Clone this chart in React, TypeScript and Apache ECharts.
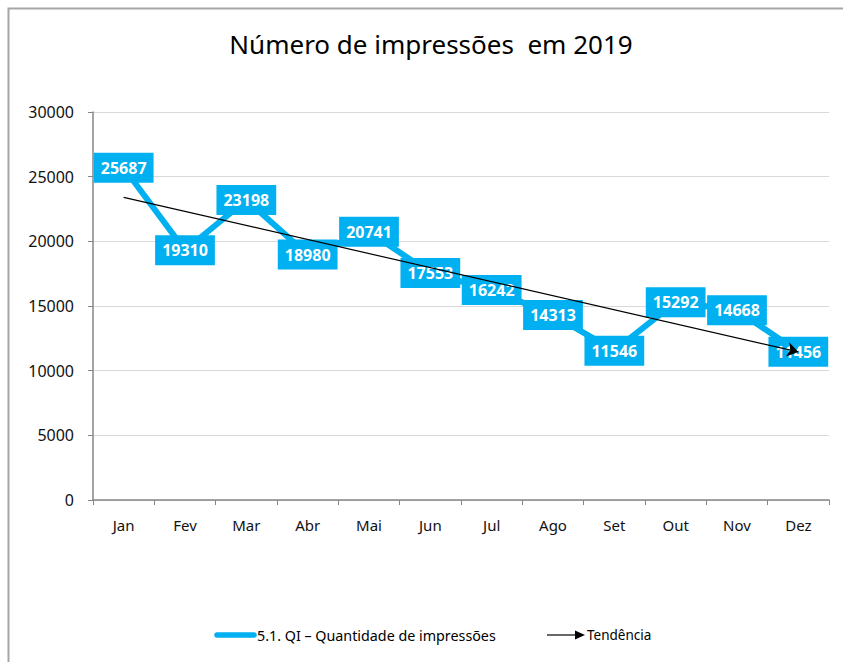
import React, { useEffect, useRef } from "react";
import * as echarts from "echarts";

const months = ["Jan", "Fev", "Mar", "Abr", "Mai", "Jun", "Jul", "Ago", "Set", "Out", "Nov", "Dez"];
const impressions = [25687, 19310, 23198, 18980, 20741, 17553, 16242, 14313, 11546, 15292, 14668, 11456];
const trendEnds = [23400, 11450];
const seriesName = "5.1. QI – Quantidade de impressões";
const trendName = "Tendência";
const titleText = "Número de impressões  em 2019";

const FONT = "'Noto Sans', 'Open Sans', sans-serif";
const CYAN = "#00B0F0";

export default function App() {
  const ref = useRef<HTMLDivElement>(null);
  useEffect(() => {
    if (!ref.current) return;
    const chart = echarts.init(ref.current, null, { renderer: "svg" });
    chart.setOption({
      animation: false,
      backgroundColor: "#ffffff",
      textStyle: { fontFamily: FONT },
      grid: { left: 93, right: 14, top: 112, bottom: 162, containLabel: false },
      xAxis: {
        type: "category",
        data: months,
        boundaryGap: true,
        axisLine: { lineStyle: { color: "#868686", width: 1.5 } },
        axisTick: { show: true, length: 5, alignWithLabel: false, lineStyle: { color: "#868686" } },
        axisLabel: { color: "#111111", fontSize: 15, margin: 17, fontFamily: FONT },
        splitLine: { show: false },
      },
      yAxis: {
        type: "value",
        min: 0,
        max: 30000,
        interval: 5000,
        axisLine: { show: true, lineStyle: { color: "#868686", width: 1.5 } },
        axisTick: { show: true, length: 5, lineStyle: { color: "#868686" } },
        axisLabel: {
          color: "#111111",
          fontSize: 16,
          margin: 19,
          fontFamily: FONT,
          formatter: (v: number) => String(v),
        },
        splitLine: { show: true, lineStyle: { color: "#d9d9d9", width: 1 } },
      },
      series: [
        {
          name: seriesName,
          type: "line",
          data: impressions,
          z: 2,
          symbol: "circle",
          symbolSize: 2,
          itemStyle: { color: CYAN },
          lineStyle: { color: CYAN, width: 6 },
          label: {
            show: true,
            position: "inside",
            color: "#ffffff",
            fontWeight: "bold",
            fontSize: 16,
            fontFamily: FONT,
            backgroundColor: CYAN,
            padding: [6, 7, 6, 7],
            lineHeight: 18,
          },
        },
        {
          name: trendName,
          type: "line",
          data: [],
          z: 10,
          markLine: {
            silent: true,
            z: 10,
            symbol: ["none", "arrow"],
            symbolSize: 11,
            label: { show: false },
            lineStyle: { color: "#000000", width: 1.2, type: "solid" },
            data: [
              [
                { coord: [months[0], trendEnds[0]] },
                { coord: [months[months.length - 1], trendEnds[1]] },
              ],
            ],
          },
        },
      ],
      graphic: [
        {
          type: "rect",
          silent: true,
          shape: { x: 8.5, y: 8.5, width: 1000, height: 1000 },
          style: { fill: "none", stroke: "#a6a6a6", lineWidth: 2 },
          z: 0,
        },
        {
          type: "text",
          x: 431,
          y: 44,
          style: {
            text: titleText,
            fill: "#000000",
            font: `26px ${FONT}`,
            textAlign: "center",
            textVerticalAlign: "middle",
          },
        },
        {
          type: "line",
          shape: { x1: 217, y1: 635, x2: 254, y2: 635 },
          style: { stroke: CYAN, lineWidth: 5.5, lineCap: "round" },
        },
        {
          type: "text",
          x: 257,
          y: 635,
          style: {
            text: seriesName,
            fill: "#000000",
            font: `14.3px ${FONT}`,
            textAlign: "left",
            textVerticalAlign: "middle",
          },
        },
        {
          type: "line",
          shape: { x1: 547, y1: 635, x2: 576, y2: 635 },
          style: { stroke: "#000000", lineWidth: 1.2 },
        },
        {
          type: "polygon",
          shape: { points: [[575, 630.5], [585, 635], [575, 639.5]] },
          style: { fill: "#000000" },
        },
        {
          type: "text",
          x: 587,
          y: 635,
          style: {
            text: trendName,
            fill: "#000000",
            font: `13.5px ${FONT}`,
            textAlign: "left",
            textVerticalAlign: "middle",
          },
        },
      ],
    });
    return () => chart.dispose();
  }, []);
  return (
    <div
      ref={ref}
      style={{ position: "absolute", left: 0, top: 0, width: 843, height: 662 }}
    />
  );
}
